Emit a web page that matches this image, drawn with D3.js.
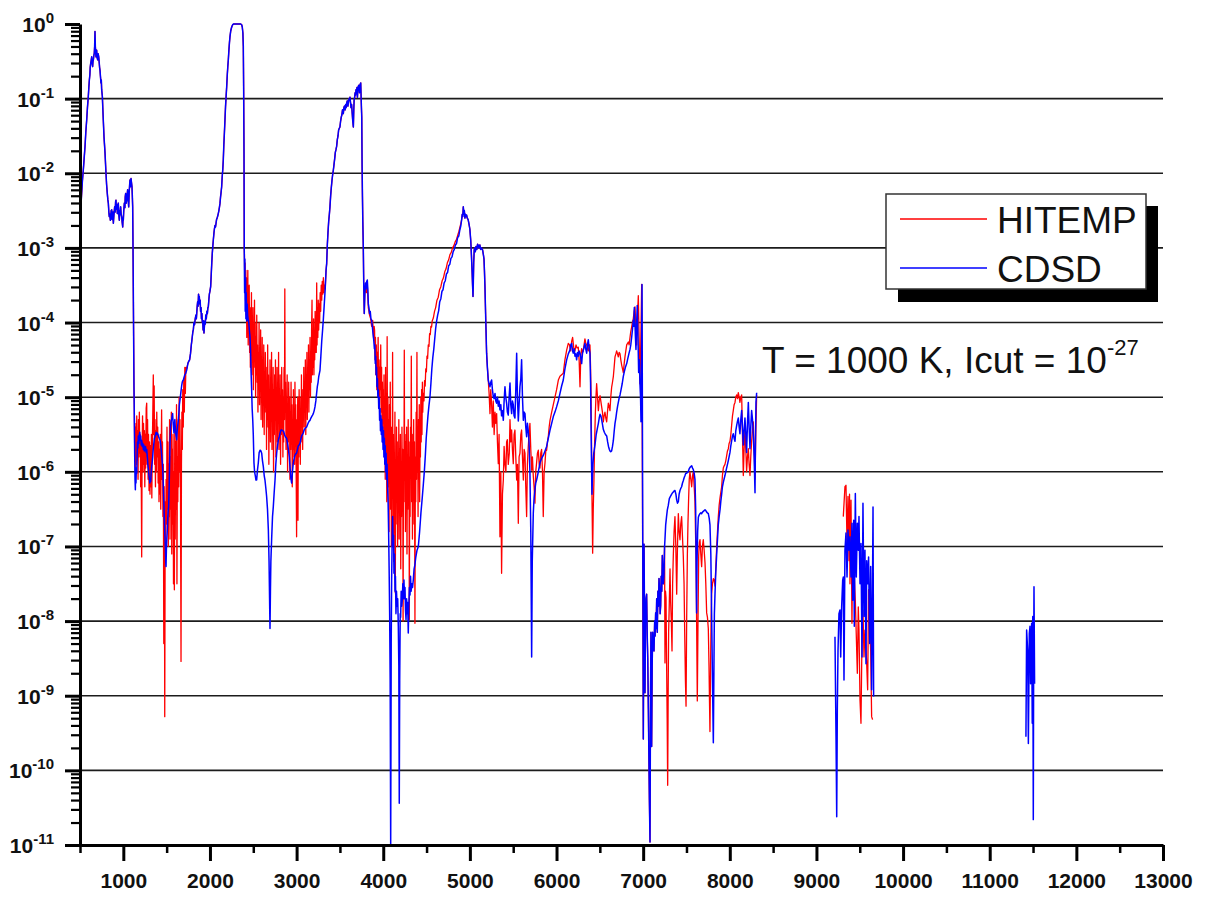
<!DOCTYPE html>
<html>
<head>
<meta charset="utf-8">
<script src="https://cdn.jsdelivr.net/npm/d3@7"></script>
<style>
  body { margin: 0; background: #ffffff; }
  svg { display: block; font-family: "Liberation Sans", Arial, Helvetica, sans-serif; }
</style>
</head>
<body>
<svg id="chart" width="1213" height="899"></svg>
<script>
// Spectra as [wavenumber (cm-1), log10(normalised intensity)] pairs.
// Stretches where both databases coincide are stored once and shared.

// 667 cm-1 band (both)
const bandNu2 = [[500,-3.0],[504,-2.75],[510,-2.45],[519,-2.27],[528,-2.1],[538,-1.96],[548,-1.8],[558,-1.64],[567,-1.45],[577,-1.29],[586,-1.12],[596,-0.97],[602,-0.85],[608,-0.75],[614,-0.68],[618,-0.58],[623,-0.53],[629,-0.49],[635,-0.44],[640,-0.52],[646,-0.57],[650,-0.5],[654,-0.48],[660,-0.42],[665,-0.39],[669,-0.3],[673,-0.1],[677,-0.3],[681,-0.38],[685,-0.44],[688,-0.38],[692,-0.35],[698,-0.45],[704,-0.48],[710,-0.4],[716,-0.44],[722,-0.52],[726,-0.58],[731,-0.62],[736,-0.7],[742,-0.79],[746,-0.75],[750,-0.88],[758,-0.97],[764,-1.15],[769,-1.29],[773,-1.4],[777,-1.51],[783,-1.62],[789,-1.73],[795,-1.88],[800,-2.0],[807,-2.15],[815,-2.27],[821,-2.35],[827,-2.4],[833,-2.52],[838,-2.58],[845,-2.55],[850,-2.63],[854,-2.6],[860,-2.5],[866,-2.49],[871,-2.62],[877,-2.58],[881,-2.52],[885,-2.67],[892,-2.55],[900,-2.45],[906,-2.52],[911,-2.38],[915,-2.36],[920,-2.48],[926,-2.42],[931,-2.54],[937,-2.45],[942,-2.4],[948,-2.55],[954,-2.63],[960,-2.5],[964,-2.52],[969,-2.45],[975,-2.55],[981,-2.58],[987,-2.66],[993,-2.72],[997,-2.6],[1000,-2.63],[1005,-2.5],[1012,-2.4],[1018,-2.46],[1022,-2.32],[1027,-2.27],[1033,-2.4],[1039,-2.36],[1045,-2.28],[1050,-2.22],[1056,-2.35],[1062,-2.45],[1068,-2.25],[1073,-2.15],[1077,-2.09],[1083,-2.18],[1089,-2.07],[1094,-2.12],[1100,-2.18],[1104,-2.3],[1108,-2.45],[1112,-3.0],[1115,-3.52],[1119,-4.2],[1123,-4.86]];

// 1120-1730 cm-1 window
const cdsdLow1 = [[1127,-5.3],[1131,-5.75],[1135,-6.1],[1139,-6.24],[1143,-5.95],[1146,-6.15],[1150,-5.98],[1155,-6.02],[1159,-5.8],[1163,-5.6],[1168,-5.68],[1173,-5.52],[1179,-5.62],[1185,-5.5],[1190,-5.47],[1196,-5.58],[1201,-5.52],[1207,-5.64],[1213,-5.58],[1219,-5.66],[1225,-5.62],[1231,-5.7],[1237,-5.64],[1243,-5.72],[1250,-5.7],[1256,-5.66],[1263,-5.74],[1270,-5.7],[1277,-5.8],[1283,-5.9],[1289,-5.96],[1295,-6.04],[1300,-6.08],[1306,-6.15],[1311,-6.1],[1316,-6.13],[1322,-6.0],[1328,-5.92],[1334,-5.86],[1339,-5.8],[1345,-5.7],[1352,-5.62],[1359,-5.55],[1366,-5.53],[1372,-5.5],[1379,-5.47],[1386,-5.5],[1393,-5.48],[1400,-5.5],[1408,-5.53],[1415,-5.55],[1423,-5.57],[1430,-5.62],[1437,-5.7],[1443,-5.78],[1450,-5.88],[1456,-6.0],[1461,-6.15],[1465,-6.33],[1470,-6.5],[1475,-6.7],[1480,-6.85],[1485,-7.0],[1489,-7.2],[1493,-7.27],[1497,-7.05],[1502,-6.9],[1508,-6.78],[1513,-6.62],[1518,-6.52],[1523,-6.47],[1529,-6.2],[1534,-5.9],[1539,-5.62],[1545,-5.4],[1551,-5.32],[1558,-5.3],[1564,-5.25],[1569,-5.22],[1575,-5.35],[1580,-5.42],[1585,-5.48],[1590,-5.36],[1595,-5.3],[1600,-5.4],[1606,-5.5],[1611,-5.53],[1616,-5.57],[1622,-5.45],[1628,-5.38],[1635,-5.31],[1641,-5.22],[1647,-5.1],[1654,-5.04],[1660,-4.98],[1666,-4.92],[1673,-4.85],[1680,-4.8],[1686,-4.78],[1693,-4.77],[1700,-4.74],[1710,-4.7],[1720,-4.68],[1731,-4.64]];
const hitempLow1 = [[1127,-5.1],[1131,-5.7],[1135,-5.35],[1140,-6.0],[1145,-5.4],[1150,-5.9],[1155,-5.25],[1160,-5.85],[1165,-5.45],[1170,-6.1],[1175,-5.3],[1180,-5.8],[1185,-5.2],[1190,-5.75],[1195,-5.5],[1200,-6.2],[1205,-5.6],[1212,-7.14],[1217,-5.7],[1222,-5.25],[1228,-6.0],[1233,-5.35],[1238,-5.9],[1243,-5.45],[1248,-6.2],[1253,-5.5],[1258,-5.95],[1264,-5.15],[1270,-5.08],[1275,-5.9],[1280,-5.3],[1286,-6.1],[1291,-5.5],[1297,-6.25],[1302,-5.6],[1308,-6.3],[1313,-5.65],[1318,-6.2],[1324,-5.5],[1329,-6.35],[1334,-5.7],[1340,-5.25],[1346,-4.7],[1351,-5.5],[1356,-4.85],[1361,-5.9],[1366,-5.3],[1371,-6.2],[1376,-5.45],[1381,-6.0],[1386,-5.2],[1392,-5.8],[1397,-5.4],[1402,-6.15],[1407,-5.6],[1412,-6.4],[1417,-5.7],[1422,-6.3],[1427,-5.5],[1432,-6.5],[1437,-5.8],[1442,-5.17],[1447,-6.1],[1452,-5.6],[1457,-6.6],[1462,-5.9],[1467,-8.3],[1471,-6.2],[1475,-7.0],[1478,-9.28],[1482,-7.3],[1486,-6.4],[1490,-6.9],[1494,-6.1],[1499,-6.7],[1504,-5.4],[1509,-6.5],[1514,-5.6],[1519,-7.0],[1524,-5.9],[1529,-6.6],[1534,-5.3],[1539,-6.9],[1544,-5.8],[1549,-6.5],[1554,-5.2],[1559,-7.1],[1564,-5.7],[1569,-6.7],[1574,-5.5],[1579,-7.5],[1584,-6.0],[1589,-7.58],[1594,-5.4],[1599,-6.9],[1604,-5.6],[1609,-6.5],[1614,-5.1],[1619,-7.5],[1624,-5.8],[1629,-6.4],[1634,-5.3],[1639,-6.2],[1644,-5.0],[1649,-6.0],[1654,-5.3],[1660,-6.3],[1666,-8.54],[1671,-5.9],[1676,-5.2],[1681,-5.7],[1686,-4.9],[1692,-5.4],[1698,-4.75],[1704,-5.2],[1710,-4.6],[1716,-4.95],[1722,-4.6],[1731,-4.62]];

// 2349 cm-1 band (both)
const band2349 = [[1745,-4.55],[1755,-4.52],[1765,-4.5],[1775,-4.42],[1785,-4.3],[1795,-4.2],[1803,-4.12],[1808,-4.1],[1815,-4.0],[1822,-4.03],[1830,-3.95],[1838,-3.9],[1843,-3.95],[1847,-3.88],[1853,-3.78],[1858,-3.72],[1863,-3.78],[1868,-3.62],[1873,-3.68],[1877,-3.65],[1882,-3.75],[1887,-3.7],[1892,-3.85],[1897,-3.8],[1902,-3.95],[1907,-3.88],[1912,-4.0],[1916,-3.97],[1921,-4.1],[1926,-3.98],[1931,-4.14],[1936,-4.05],[1941,-3.98],[1946,-4.02],[1952,-3.9],[1958,-3.95],[1964,-3.85],[1970,-3.88],[1976,-3.8],[1981,-3.79],[1987,-3.7],[1993,-3.62],[2000,-3.58],[2008,-3.52],[2015,-3.35],[2021,-3.2],[2027,-3.07],[2033,-2.98],[2039,-2.89],[2046,-2.8],[2052,-2.74],[2058,-2.7],[2064,-2.72],[2070,-2.67],[2076,-2.62],[2083,-2.6],[2090,-2.57],[2096,-2.54],[2103,-2.5],[2110,-2.45],[2116,-2.4],[2122,-2.32],[2128,-2.26],[2135,-2.18],[2141,-2.05],[2148,-1.95],[2154,-1.82],[2160,-1.62],[2167,-1.45],[2173,-1.29],[2180,-1.1],[2187,-0.96],[2193,-0.84],[2200,-0.68],[2206,-0.57],[2212,-0.48],[2218,-0.36],[2225,-0.25],[2231,-0.17],[2240,-0.09],[2251,-0.04],[2262,-0.01],[2275,0],[2300,0],[2330,0],[2355,0],[2366,-0.01],[2373,-0.04],[2380,-0.12],[2385,-0.3],[2389,-0.9],[2393,-1.73],[2396,-3.03]];

// 2400-3320 cm-1 window
const cdsdGap2 = [[2400,-3.6],[2403,-3.15],[2407,-3.85],[2411,-3.4],[2415,-3.95],[2419,-3.6],[2424,-3.98],[2429,-3.75],[2435,-3.9],[2441,-3.96],[2448,-4.0],[2455,-4.1],[2462,-4.19],[2468,-4.35],[2474,-4.64],[2481,-4.9],[2487,-5.15],[2494,-5.31],[2500,-5.5],[2508,-5.88],[2515,-6.0],[2523,-6.05],[2531,-6.11],[2539,-6.11],[2548,-5.98],[2558,-5.88],[2568,-5.74],[2578,-5.71],[2588,-5.72],[2597,-5.75],[2606,-5.85],[2616,-5.93],[2626,-6.05],[2635,-6.11],[2645,-6.22],[2654,-6.33],[2664,-6.5],[2674,-6.78],[2682,-7.2],[2688,-7.7],[2693,-8.1],[2698,-7.6],[2703,-7.2],[2712,-6.9],[2722,-6.6],[2731,-6.47],[2741,-6.28],[2751,-6.11],[2760,-5.9],[2770,-5.75],[2780,-5.65],[2790,-5.57],[2800,-5.53],[2810,-5.48],[2820,-5.44],[2830,-5.44],[2840,-5.45],[2850,-5.46],[2860,-5.5],[2870,-5.53],[2885,-5.55],[2895,-5.62],[2905,-5.7],[2916,-5.8],[2925,-5.95],[2933,-6.08],[2943,-6.15],[2952,-6.0],[2962,-5.88],[2972,-5.82],[2981,-5.78],[2990,-5.76],[3000,-5.75],[3010,-5.7],[3020,-5.65],[3030,-5.64],[3039,-5.62],[3048,-5.57],[3058,-5.52],[3068,-5.5],[3077,-5.48],[3087,-5.44],[3097,-5.42],[3106,-5.41],[3116,-5.4],[3126,-5.37],[3136,-5.34],[3145,-5.32],[3155,-5.31],[3165,-5.28],[3174,-5.26],[3184,-5.24],[3193,-5.22],[3203,-5.18],[3212,-5.13],[3222,-5.05],[3230,-4.96],[3239,-4.86],[3248,-4.8],[3256,-4.72],[3263,-4.68],[3270,-4.64],[3280,-4.45],[3290,-4.25],[3300,-4.1],[3308,-3.97],[3318,-3.78]];
const hitempGap2 = [[2398,-3.1],[2402,-3.5],[2406,-3.2],[2410,-3.7],[2414,-3.3],[2418,-3.9],[2421,-3.4],[2425,-4.2],[2429,-3.5],[2433,-3.8],[2437,-3.3],[2441,-4.3],[2445,-3.7],[2449,-4.0],[2453,-3.5],[2458,-4.4],[2462,-3.8],[2466,-4.6],[2470,-3.9],[2475,-4.2],[2479,-3.6],[2483,-4.7],[2488,-4.0],[2492,-4.4],[2496,-3.8],[2501,-4.9],[2505,-4.1],[2509,-4.6],[2514,-3.7],[2518,-4.5],[2522,-4.0],[2527,-5.0],[2531,-4.2],[2536,-4.7],[2540,-3.9],[2545,-4.8],[2549,-4.3],[2554,-5.2],[2558,-4.4],[2563,-4.9],[2567,-4.0],[2572,-5.1],[2576,-4.5],[2581,-4.8],[2585,-4.1],[2590,-5.3],[2594,-4.6],[2599,-5.0],[2603,-4.2],[2608,-5.4],[2612,-4.5],[2617,-5.0],[2621,-4.3],[2626,-5.5],[2630,-4.7],[2635,-5.2],[2639,-4.4],[2644,-5.1],[2648,-4.6],[2653,-5.7],[2657,-4.8],[2662,-5.3],[2666,-4.3],[2671,-5.4],[2675,-4.7],[2680,-5.9],[2684,-4.9],[2689,-5.3],[2693,-4.5],[2698,-5.6],[2702,-4.8],[2707,-5.2],[2711,-4.4],[2716,-5.7],[2720,-5.0],[2725,-5.4],[2729,-4.6],[2734,-6.0],[2738,-4.9],[2743,-5.5],[2747,-4.7],[2752,-5.3],[2756,-4.5],[2761,-5.8],[2765,-5.0],[2770,-5.4],[2774,-4.6],[2779,-5.6],[2783,-4.9],[2788,-5.3],[2792,-4.4],[2797,-5.7],[2801,-5.0],[2806,-5.5],[2810,-4.7],[2815,-5.9],[2819,-5.1],[2824,-5.5],[2828,-4.6],[2833,-5.4],[2837,-4.9],[2842,-5.8],[2846,-5.0],[2851,-5.6],[2855,-4.6],[2860,-5.3],[2864,-3.55],[2868,-5.2],[2873,-4.8],[2878,-5.7],[2882,-5.0],[2887,-5.4],[2891,-4.7],[2896,-6.0],[2900,-5.1],[2905,-5.6],[2909,-4.8],[2914,-5.5],[2918,-5.0],[2923,-6.1],[2927,-5.2],[2932,-5.7],[2936,-4.8],[2941,-5.6],[2945,-5.1],[2950,-6.2],[2954,-5.3],[2959,-5.8],[2963,-4.9],[2968,-5.7],[2972,-5.2],[2977,-5.9],[2981,-4.8],[2986,-5.6],[2990,-5.1],[2995,-6.0],[3000,-6.87],[3004,-5.3],[3009,-5.7],[3013,-5.0],[3016,-6.65],[3020,-5.4],[3025,-5.8],[3029,-4.9],[3034,-5.5],[3038,-5.0],[3043,-5.9],[3047,-5.2],[3052,-5.6],[3056,-4.7],[3061,-5.4],[3065,-4.9],[3070,-5.7],[3074,-5.0],[3079,-5.3],[3083,-4.6],[3088,-5.4],[3092,-4.8],[3097,-5.2],[3101,-4.5],[3106,-5.5],[3110,-4.7],[3115,-5.1],[3119,-4.4],[3124,-5.3],[3128,-4.6],[3133,-5.0],[3137,-4.3],[3142,-5.2],[3146,-4.5],[3151,-4.9],[3155,-4.2],[3160,-5.0],[3164,-4.4],[3169,-4.8],[3173,-4.1],[3178,-3.7],[3182,-4.7],[3187,-4.2],[3191,-4.6],[3196,-3.95],[3200,-4.7],[3205,-4.2],[3209,-4.5],[3214,-3.85],[3218,-4.4],[3223,-4.0],[3227,-4.4],[3232,-3.47],[3236,-4.3],[3241,-3.8],[3245,-4.2],[3250,-3.7],[3255,-4.1],[3260,-3.75],[3266,-4.0],[3272,-3.6],[3278,-3.85],[3284,-3.5],[3290,-3.7],[3296,-3.45],[3302,-3.62],[3309,-3.4],[3316,-3.6],[3322,-3.5]];

// 3700 cm-1 band (both)
const band3700 = [[3330,-3.55],[3340,-3.3],[3347,-3.21],[3355,-2.95],[3362,-2.8],[3370,-2.65],[3378,-2.55],[3385,-2.45],[3393,-2.3],[3400,-2.2],[3408,-2.1],[3416,-2.02],[3424,-1.96],[3432,-1.88],[3440,-1.8],[3447,-1.72],[3455,-1.68],[3462,-1.64],[3470,-1.55],[3478,-1.5],[3485,-1.42],[3492,-1.4],[3500,-1.38],[3508,-1.3],[3515,-1.25],[3522,-1.22],[3530,-1.15],[3539,-1.2],[3546,-1.12],[3553,-1.1],[3560,-1.15],[3566,-1.08],[3572,-1.12],[3578,-1.06],[3585,-1.03],[3592,-1.1],[3598,-1.05],[3605,-1.0],[3611,-1.02],[3616,-0.98],[3622,-1.05],[3628,-1.12],[3635,-1.08],[3642,-1.2],[3648,-1.3],[3655,-1.38],[3660,-1.15],[3664,-1.02],[3670,-0.98],[3676,-0.92],[3681,-0.95],[3686,-0.88],[3692,-0.92],[3697,-0.85],[3702,-0.98],[3708,-0.86],[3714,-0.83],[3720,-0.82],[3726,-0.92],[3731,-0.86],[3736,-0.8],[3740,-0.79],[3744,-0.95],[3748,-1.11],[3752,-1.25],[3756,-1.9],[3760,-2.3],[3764,-2.63],[3770,-3.0],[3775,-3.5],[3781,-3.88]];

// 3790-4900 cm-1 window
const cdsdWing3 = [[3788,-3.6],[3795,-3.47],[3802,-3.55],[3809,-3.45],[3816,-3.43],[3822,-3.55],[3828,-3.75],[3835,-3.8],[3842,-3.88],[3850,-3.85],[3858,-3.95],[3866,-3.97],[3874,-4.05],[3882,-4.15],[3890,-4.23],[3898,-4.35],[3903,-4.3],[3908,-4.55],[3913,-4.45],[3918,-4.7],[3923,-4.6],[3928,-4.86],[3933,-4.75],[3938,-5.0],[3943,-4.9],[3948,-5.15],[3953,-5.0],[3958,-5.31],[3963,-5.15],[3968,-5.45],[3973,-5.25],[3978,-5.5],[3983,-5.3],[3988,-5.6],[3993,-5.4],[3998,-5.7],[4003,-5.45],[4008,-5.8],[4013,-5.55],[4018,-5.9],[4023,-5.65],[4028,-6.0],[4033,-5.75],[4038,-6.1],[4044,-5.9],[4050,-6.2],[4056,-6.4],[4062,-6.8],[4068,-7.3],[4074,-7.9],[4080,-8.8],[4086,-11.0],[4092,-8.3],[4097,-7.45],[4103,-6.9],[4108,-6.6],[4114,-7.0],[4119,-6.85],[4124,-7.36],[4130,-7.1],[4136,-7.6],[4141,-7.4],[4147,-7.9],[4153,-7.6],[4160,-7.8],[4167,-7.7],[4174,-8.07],[4180,-8.6],[4185,-10.44],[4190,-8.8],[4196,-7.9],[4201,-7.95],[4207,-7.6],[4213,-7.8],[4220,-7.72],[4226,-7.5],[4232,-7.7],[4239,-7.45],[4245,-7.7],[4251,-7.55],[4257,-7.85],[4263,-7.98],[4270,-7.7],[4276,-7.9],[4282,-7.75],[4289,-8.16],[4295,-7.8],[4302,-7.55],[4309,-7.65],[4315,-7.4],[4322,-7.6],[4330,-7.5],[4338,-7.55],[4347,-7.45],[4356,-7.3],[4365,-7.25],[4375,-7.15],[4390,-7.05],[4405,-7.0],[4420,-6.8],[4435,-6.55],[4450,-6.35],[4462,-6.18],[4474,-6.0],[4485,-5.8],[4496,-5.55],[4506,-5.4],[4516,-5.25],[4527,-5.12],[4539,-5.0],[4550,-4.82],[4561,-4.62],[4572,-4.47],[4583,-4.36],[4594,-4.22],[4605,-4.08],[4616,-3.98],[4628,-3.9],[4640,-3.84],[4652,-3.72],[4665,-3.68],[4678,-3.58],[4690,-3.56],[4703,-3.47],[4716,-3.44],[4729,-3.35],[4742,-3.33],[4755,-3.24],[4768,-3.22],[4781,-3.14],[4794,-3.12],[4807,-3.05],[4820,-3.02],[4833,-2.96],[4846,-2.94],[4859,-2.86],[4872,-2.84],[4884,-2.76],[4896,-2.7]];
const hitempWing3 = [[3788,-3.6],[3795,-3.5],[3805,-3.6],[3816,-3.5],[3828,-3.8],[3842,-3.9],[3855,-3.95],[3866,-4.05],[3878,-3.97],[3888,-4.2],[3895,-4.05],[3900,-4.1],[3905,-4.5],[3910,-4.2],[3915,-4.7],[3920,-4.3],[3926,-4.9],[3931,-4.4],[3936,-4.8],[3941,-4.2],[3946,-5.0],[3951,-4.5],[3956,-5.1],[3961,-4.6],[3966,-4.9],[3971,-4.3],[3976,-5.2],[3981,-4.6],[3986,-5.4],[3990,-4.8],[3995,-5.6],[4000,-4.9],[4004,-5.3],[4009,-4.7],[4014,-5.8],[4018,-5.0],[4023,-6.1],[4027,-4.6],[4032,-5.9],[4036,-5.2],[4041,-6.4],[4045,-4.19],[4049,-5.6],[4054,-5.0],[4058,-6.2],[4063,-5.3],[4067,-6.8],[4072,-5.1],[4076,-6.0],[4081,-4.8],[4085,-6.5],[4090,-5.4],[4094,-7.0],[4099,-5.6],[4103,-6.3],[4108,-4.4],[4112,-6.6],[4117,-5.5],[4121,-7.2],[4126,-5.8],[4130,-6.4],[4135,-5.2],[4139,-7.62],[4144,-5.9],[4148,-6.7],[4153,-5.4],[4157,-6.2],[4162,-5.6],[4166,-7.0],[4171,-5.8],[4175,-6.5],[4180,-5.3],[4184,-6.9],[4189,-5.7],[4193,-6.3],[4198,-5.5],[4202,-7.3],[4207,-5.9],[4211,-6.6],[4216,-5.4],[4220,-6.2],[4225,-5.7],[4229,-8.0],[4234,-5.8],[4238,-6.4],[4243,-4.37],[4247,-6.1],[4252,-5.5],[4256,-6.8],[4261,-5.6],[4265,-6.3],[4270,-5.4],[4274,-7.1],[4279,-5.9],[4283,-6.5],[4288,-5.3],[4292,-6.2],[4297,-5.6],[4301,-7.98],[4306,-5.8],[4310,-6.6],[4315,-5.4],[4319,-6.0],[4324,-4.45],[4328,-6.4],[4333,-5.7],[4337,-6.9],[4342,-5.5],[4346,-6.2],[4351,-5.3],[4355,-6.7],[4360,-5.6],[4366,-8.03],[4371,-5.8],[4375,-6.4],[4380,-5.2],[4384,-6.1],[4389,-4.4],[4393,-6.0],[4398,-5.4],[4402,-6.6],[4407,-5.3],[4411,-5.9],[4416,-5.1],[4420,-6.4],[4425,-5.4],[4429,-5.8],[4434,-5.0],[4438,-5.6],[4443,-4.9],[4447,-5.5],[4452,-4.8],[4456,-5.2],[4462,-4.95],[4470,-5.05],[4477,-4.78],[4484,-4.85],[4491,-4.62],[4498,-4.66],[4505,-4.45],[4512,-4.48],[4520,-4.3],[4528,-4.32],[4535,-4.15],[4543,-4.16],[4550,-4.05],[4558,-4.06],[4565,-3.98],[4578,-3.94],[4592,-3.85],[4605,-3.8],[4620,-3.7],[4635,-3.66],[4650,-3.56],[4665,-3.52],[4680,-3.44],[4695,-3.4],[4710,-3.32],[4725,-3.28],[4740,-3.2],[4755,-3.16],[4770,-3.09],[4785,-3.06],[4800,-3.0],[4815,-2.97],[4830,-2.92],[4845,-2.89],[4860,-2.83],[4873,-2.78],[4886,-2.72],[4896,-2.67]];

// 5000 cm-1 band (both)
const band5000 = [[4905,-2.62],[4912,-2.55],[4918,-2.58],[4924,-2.45],[4930,-2.55],[4936,-2.5],[4942,-2.6],[4948,-2.55],[4955,-2.58],[4962,-2.56],[4970,-2.6],[4980,-2.62],[4990,-2.68],[5000,-2.75],[5010,-2.9],[5018,-3.1],[5025,-3.3],[5031,-3.5],[5036,-3.65],[5040,-3.45],[5044,-3.2],[5050,-3.03],[5055,-3.0],[5063,-3.05],[5071,-2.98],[5080,-3.02],[5089,-2.95],[5097,-2.97],[5106,-3.0],[5115,-2.96],[5124,-3.02],[5135,-3.0],[5147,-3.03],[5157,-3.1],[5163,-3.15],[5168,-3.3],[5174,-3.52],[5184,-4.0],[5193,-4.41],[5202,-4.6],[5212,-4.77]];

// 5220-6990 cm-1 window
const cdsdGap4 = [[5222,-4.82],[5232,-4.86],[5241,-4.8],[5251,-4.77],[5260,-4.9],[5270,-4.99],[5280,-5.02],[5290,-4.95],[5299,-5.05],[5309,-5.08],[5318,-5.0],[5328,-5.12],[5337,-5.05],[5347,-5.17],[5357,-5.1],[5366,-5.25],[5376,-5.18],[5386,-5.31],[5395,-5.05],[5405,-4.86],[5414,-5.0],[5424,-5.08],[5433,-5.2],[5443,-5.24],[5453,-5.0],[5463,-4.81],[5472,-5.1],[5482,-5.22],[5491,-5.05],[5501,-5.1],[5510,-5.25],[5520,-5.28],[5530,-4.9],[5540,-4.41],[5549,-5.0],[5559,-5.32],[5568,-5.1],[5578,-4.86],[5588,-4.75],[5597,-4.5],[5607,-5.0],[5617,-5.31],[5626,-5.2],[5636,-5.22],[5645,-5.4],[5655,-5.53],[5664,-5.35],[5674,-5.45],[5683,-5.6],[5693,-6.0],[5703,-6.8],[5713,-8.48],[5720,-7.2],[5732,-6.55],[5741,-6.35],[5751,-6.24],[5760,-6.15],[5770,-6.11],[5790,-6.0],[5809,-5.88],[5828,-5.82],[5847,-5.78],[5867,-5.72],[5886,-5.66],[5905,-5.55],[5925,-5.44],[5944,-5.35],[5963,-5.26],[5982,-5.2],[6001,-5.13],[6021,-5.05],[6040,-4.95],[6059,-4.85],[6078,-4.77],[6097,-4.62],[6117,-4.5],[6136,-4.42],[6155,-4.37],[6165,-4.3],[6175,-4.28],[6185,-4.38],[6194,-4.41],[6204,-4.35],[6213,-4.45],[6223,-4.42],[6232,-4.5],[6242,-4.4],[6251,-4.45],[6261,-4.38],[6271,-4.41],[6280,-4.47],[6290,-4.55],[6299,-4.42],[6309,-4.37],[6318,-4.33],[6328,-4.28],[6338,-4.36],[6348,-4.41],[6357,-4.3],[6367,-4.23],[6377,-4.35],[6386,-4.41],[6393,-4.8],[6398,-5.31],[6403,-5.8],[6409,-6.3],[6414,-6.1],[6420,-5.9],[6430,-5.75],[6444,-5.64],[6458,-5.5],[6471,-5.42],[6483,-5.35],[6494,-5.27],[6502,-5.23],[6512,-5.25],[6521,-5.3],[6530,-5.36],[6540,-5.43],[6552,-5.47],[6565,-5.5],[6579,-5.52],[6590,-5.6],[6600,-5.66],[6610,-5.7],[6617,-5.72],[6626,-5.73],[6636,-5.72],[6646,-5.66],[6656,-5.58],[6666,-5.45],[6675,-5.35],[6685,-5.28],[6694,-5.2],[6705,-5.12],[6715,-5.06],[6725,-5.0],[6733,-4.97],[6745,-4.9],[6758,-4.82],[6771,-4.72],[6782,-4.66],[6795,-4.6],[6810,-4.55],[6823,-4.48],[6835,-4.42],[6848,-4.36],[6857,-4.3],[6867,-4.2],[6876,-4.1],[6886,-3.97],[6892,-4.05],[6898,-3.8],[6905,-4.0],[6911,-4.2],[6917,-4.36],[6925,-4.0],[6932,-3.77],[6940,-4.2],[6948,-4.67],[6956,-4.5],[6963,-4.82],[6970,-5.0],[6975,-5.33],[6981,-4.5],[6987,-3.49]];
const hitempGap4 = [[5222,-4.95],[5232,-5.22],[5241,-4.9],[5251,-5.1],[5260,-5.4],[5270,-5.05],[5280,-5.5],[5290,-5.2],[5299,-5.35],[5309,-5.22],[5318,-5.6],[5328,-5.89],[5337,-5.5],[5347,-6.87],[5357,-6.0],[5366,-7.36],[5376,-6.3],[5386,-6.11],[5395,-5.66],[5405,-5.9],[5416,-6.0],[5424,-5.6],[5432,-5.57],[5443,-5.9],[5455,-5.75],[5463,-5.3],[5472,-5.6],[5482,-5.44],[5491,-5.7],[5501,-5.89],[5510,-5.5],[5520,-5.44],[5530,-5.8],[5540,-6.11],[5549,-5.9],[5559,-6.69],[5568,-5.8],[5578,-5.75],[5588,-5.5],[5597,-5.44],[5607,-5.8],[5617,-6.11],[5626,-5.7],[5636,-5.75],[5645,-6.2],[5655,-6.6],[5664,-5.9],[5674,-5.66],[5683,-5.5],[5693,-5.35],[5703,-5.7],[5713,-5.98],[5722,-5.8],[5732,-6.06],[5741,-6.2],[5751,-6.42],[5760,-6.0],[5770,-5.88],[5780,-5.75],[5790,-5.71],[5800,-5.9],[5809,-5.95],[5818,-5.75],[5828,-5.7],[5838,-6.0],[5847,-6.6],[5857,-6.0],[5867,-5.88],[5876,-5.72],[5886,-5.71],[5895,-5.6],[5905,-5.53],[5915,-5.4],[5925,-5.31],[5944,-5.2],[5963,-5.1],[5982,-5.0],[6001,-4.9],[6021,-4.77],[6040,-4.72],[6059,-4.7],[6078,-4.68],[6097,-4.5],[6117,-4.37],[6136,-4.28],[6150,-4.3],[6163,-4.38],[6175,-4.25],[6186,-4.2],[6200,-4.35],[6213,-4.38],[6225,-4.3],[6238,-4.34],[6251,-4.33],[6261,-4.5],[6271,-4.86],[6280,-4.45],[6290,-4.35],[6299,-4.4],[6309,-4.38],[6318,-4.3],[6328,-4.22],[6338,-4.28],[6348,-4.3],[6357,-4.35],[6367,-4.38],[6377,-4.3],[6386,-4.3],[6393,-4.6],[6398,-4.95],[6404,-5.6],[6410,-6.4],[6417,-7.09],[6424,-6.5],[6432,-6.11],[6440,-5.6],[6448,-5.22],[6455,-5.0],[6463,-4.82],[6473,-5.0],[6483,-5.18],[6492,-5.05],[6502,-4.98],[6511,-5.05],[6521,-5.13],[6530,-5.2],[6540,-5.33],[6549,-5.25],[6559,-5.2],[6569,-5.28],[6579,-5.33],[6588,-5.2],[6598,-5.08],[6607,-5.12],[6617,-5.18],[6626,-5.0],[6636,-4.87],[6646,-4.8],[6656,-4.72],[6665,-4.6],[6675,-4.46],[6685,-4.42],[6694,-4.38],[6704,-4.42],[6713,-4.46],[6723,-4.4],[6733,-4.42],[6742,-4.5],[6752,-4.57],[6762,-4.62],[6771,-4.67],[6781,-4.55],[6790,-4.46],[6800,-4.38],[6810,-4.3],[6829,-4.26],[6838,-4.3],[6848,-4.2],[6857,-4.12],[6867,-4.06],[6876,-4.0],[6886,-3.95],[6896,-3.85],[6906,-3.79],[6915,-4.05],[6925,-4.3],[6935,-3.9],[6944,-3.64],[6953,-4.2],[6963,-4.82],[6972,-4.3],[6983,-3.49]];

// 7000-7250 cm-1 (both)
const band7000 = [[7002,-9.58],[7010,-6.97],[7015,-7.8],[7021,-8.96],[7027,-8.0],[7033,-7.7],[7040,-7.64],[7047,-8.2],[7053,-8.5],[7060,-9.17],[7066,-9.8],[7072,-10.4],[7079,-10.96],[7085,-9.0],[7090,-8.15],[7094,-8.8],[7098,-9.68],[7104,-8.6],[7110,-8.15],[7117,-8.3],[7125,-8.4],[7133,-8.0],[7138,-8.2],[7144,-7.89],[7150,-8.1],[7156,-7.7],[7163,-8.15],[7170,-7.6],[7176,-7.8],[7183,-7.43],[7190,-7.6],[7196,-7.9],[7202,-7.79],[7208,-7.4],[7215,-7.6],[7221,-7.12],[7227,-7.3],[7233,-7.5],[7240,-7.38],[7247,-7.0]];

// 7250-8310 cm-1
const cdsdBand5 = [[7252,-6.9],[7260,-6.71],[7270,-6.6],[7279,-6.51],[7290,-6.45],[7302,-6.36],[7315,-6.33],[7329,-6.3],[7340,-6.28],[7355,-6.26],[7367,-6.25],[7378,-6.3],[7387,-6.38],[7396,-6.42],[7406,-6.4],[7415,-6.3],[7425,-6.25],[7435,-6.22],[7444,-6.2],[7454,-6.15],[7463,-6.12],[7473,-6.08],[7483,-6.05],[7492,-6.02],[7502,-6.02],[7512,-6.0],[7521,-6.0],[7531,-5.96],[7541,-5.94],[7550,-5.93],[7560,-5.92],[7570,-5.95],[7579,-5.97],[7589,-6.02],[7598,-6.1],[7606,-6.5],[7612,-7.3],[7617,-7.89],[7622,-7.2],[7629,-6.8],[7637,-6.61],[7646,-6.58],[7656,-6.56],[7666,-6.55],[7675,-6.56],[7685,-6.54],[7694,-6.53],[7704,-6.52],[7714,-6.51],[7723,-6.52],[7733,-6.54],[7742,-6.55],[7752,-6.56],[7762,-6.62],[7771,-6.71],[7781,-7.1],[7790,-7.89],[7800,-8.8],[7810,-9.63],[7817,-8.6],[7822,-7.9],[7829,-7.64],[7838,-7.35],[7848,-7.12],[7858,-6.9],[7867,-6.71],[7877,-6.6],[7887,-6.51],[7896,-6.4],[7906,-6.3],[7915,-6.2],[7925,-6.14],[7944,-6.05],[7963,-5.95],[7983,-5.85],[8002,-5.74],[8012,-5.65],[8021,-5.59],[8031,-5.52],[8040,-5.49],[8050,-5.55],[8060,-5.59],[8069,-5.45],[8079,-5.38],[8089,-5.32],[8098,-5.28],[8108,-5.4],[8117,-5.49],[8127,-5.3],[8137,-5.18],[8146,-5.4],[8156,-5.64],[8165,-5.45],[8175,-5.28],[8185,-5.5],[8194,-5.74],[8204,-5.35],[8214,-5.07],[8223,-5.4],[8233,-5.69],[8242,-5.4],[8252,-5.18],[8262,-5.3],[8271,-5.49],[8281,-5.8],[8291,-6.28],[8296,-5.6],[8302,-5.07],[8310,-4.94]];
const hitempBand5 = [[7252,-8.56],[7258,-7.6],[7264,-7.69],[7270,-8.5],[7277,-9.3],[7283,-10.2],[7289,-8.9],[7294,-8.15],[7302,-7.74],[7310,-7.3],[7317,-7.74],[7325,-8.0],[7333,-8.4],[7340,-7.5],[7348,-7.12],[7357,-6.8],[7367,-6.6],[7377,-7.0],[7387,-7.64],[7396,-7.0],[7406,-6.56],[7415,-6.8],[7425,-6.91],[7434,-6.7],[7444,-6.6],[7453,-6.85],[7463,-7.12],[7472,-7.5],[7480,-8.2],[7488,-8.8],[7495,-9.14],[7502,-8.0],[7510,-7.12],[7517,-6.7],[7525,-6.35],[7532,-6.1],[7540,-6.0],[7550,-6.1],[7560,-6.2],[7570,-6.05],[7579,-6.0],[7589,-6.2],[7598,-6.4],[7604,-6.8],[7610,-7.12],[7617,-8.0],[7625,-9.07],[7633,-8.0],[7641,-7.12],[7648,-6.95],[7656,-6.91],[7665,-7.1],[7675,-7.27],[7684,-7.0],[7694,-6.91],[7704,-7.05],[7714,-7.22],[7723,-7.5],[7733,-7.89],[7742,-7.95],[7752,-8.1],[7760,-8.6],[7766,-9.1],[7771,-9.48],[7778,-8.6],[7784,-8.0],[7790,-7.64],[7800,-7.5],[7810,-7.43],[7820,-7.45],[7829,-7.53],[7838,-7.3],[7848,-7.02],[7858,-6.8],[7867,-6.61],[7877,-6.45],[7887,-6.35],[7896,-6.28],[7906,-6.2],[7915,-6.05],[7925,-5.95],[7935,-5.92],[7944,-5.9],[7954,-5.85],[7963,-5.79],[7973,-5.72],[7983,-5.69],[7992,-5.62],[8002,-5.59],[8012,-5.5],[8021,-5.38],[8031,-5.25],[8040,-5.18],[8050,-5.1],[8060,-5.07],[8069,-5.0],[8079,-4.97],[8089,-5.02],[8098,-4.94],[8108,-5.0],[8117,-5.07],[8127,-5.0],[8137,-4.97],[8146,-5.5],[8156,-6.05],[8165,-5.7],[8175,-5.43],[8185,-5.7],[8194,-6.0],[8204,-5.8],[8214,-5.69],[8223,-5.9],[8233,-6.05],[8242,-5.8],[8252,-5.59],[8262,-5.45],[8271,-5.33],[8281,-5.7],[8291,-6.1],[8300,-5.5],[8310,-4.97]];

// 9200-9660 cm-1
const cdsdBand6 = [[9214,-8.21],[9226,-9.55],[9234,-10.62],[9241,-9.19],[9249,-8.39],[9260,-7.9],[9272,-7.85],[9280,-8.48],[9291,-7.81],[9303,-7.45],[9310,-7.41],[9318,-8.79],[9329,-7.05],[9341,-6.82],[9353,-7.41],[9364,-6.78],[9376,-7.05],[9387,-6.87],[9399,-7.41],[9410,-6.69],[9418,-7.72],[9430,-6.65],[9437,-8.07],[9449,-6.29],[9460,-7.41],[9472,-6.69],[9483,-7.05],[9491,-6.6],[9503,-7.5],[9514,-6.96],[9526,-8.48],[9537,-6.42],[9549,-7.94],[9560,-7.05],[9572,-8.57],[9580,-7.19],[9591,-7.5],[9602,-7.14],[9614,-8.3],[9626,-7.27],[9637,-8.92],[9645,-7.94],[9653,-6.47],[9660,-9.01]];
const hitempBand6 = [[9310,-6.6],[9329,-6.2],[9341,-6.18],[9353,-6.96],[9364,-6.33],[9376,-7.19],[9382,-6.3],[9387,-7.5],[9399,-6.38],[9410,-8.03],[9418,-6.87],[9430,-7.1],[9437,-7.41],[9449,-7.73],[9472,-8.7],[9483,-7.81],[9491,-8.12],[9503,-9.06],[9514,-9.37],[9526,-8.21],[9537,-7.85],[9549,-8.48],[9560,-8.12],[9580,-8.57],[9591,-8.92],[9602,-7.58],[9614,-8.03],[9626,-8.39],[9637,-9.28],[9648,-9.32]];

// 11400-11520 cm-1 (CDSD only)
const cdsdBand7 = [[11418,-9.55],[11426,-8.12],[11438,-8.39],[11446,-9.64],[11457,-8.17],[11465,-8.07],[11472,-8.84],[11484,-8.03],[11491,-9.37],[11497,-7.94],[11503,-10.66],[11507,-8.6],[11511,-7.54],[11518,-8.84]];

const xMajorTicks = d3.range(1000, 13001, 1000);
const xMinorTicks = d3.range(500, 13000, 1000);
const yExponents = d3.range(-11, 1);

const seriesList = [
  { name: "HITEMP", color: "#ff0000", width: 1.3,
    segments: [
      [...bandNu2, ...hitempLow1, ...band2349, ...hitempGap2, ...band3700, ...hitempWing3,
       ...band5000, ...hitempGap4, ...band7000, ...hitempBand5],
      hitempBand6
    ] },
  { name: "CDSD", color: "#0000ff", width: 1.5,
    segments: [
      [...bandNu2, ...cdsdLow1, ...band2349, ...cdsdGap2, ...band3700, ...cdsdWing3,
       ...band5000, ...cdsdGap4, ...band7000, ...cdsdBand5],
      cdsdBand6, cdsdBand7
    ] }
];

// ---------------------------------------------------------------
const svg = d3.select("#chart");
const plot = { left: 80, right: 1163, top: 24, bottom: 845 };

const x = d3.scaleLinear().domain([500, 13000]).range([plot.left, plot.right]);
const y = d3.scaleLog().domain([1e-11, 1]).range([plot.bottom, plot.top]);
const val = e => Math.pow(10, e);

// horizontal grid at each decade
svg.append("g")
  .selectAll("line")
  .data(yExponents.filter(e => e > -11 && e < 0))
  .join("line")
  .attr("x1", plot.left).attr("x2", plot.right)
  .attr("y1", e => y(val(e))).attr("y2", e => y(val(e)))
  .attr("stroke", "#1c1c1c").attr("stroke-width", 1.6);

// spectra
svg.append("clipPath").attr("id", "plotClip")
  .append("rect")
  .attr("x", plot.left).attr("y", plot.top - 2)
  .attr("width", plot.right - plot.left).attr("height", plot.bottom - plot.top + 2);

const line = d3.line().x(d => x(d[0])).y(d => y(val(d[1])));
const dataLayer = svg.append("g").attr("clip-path", "url(#plotClip)");
seriesList.forEach(s => {
  dataLayer.append("g")
    .selectAll("path")
    .data(s.segments)
    .join("path")
    .attr("d", line)
    .attr("fill", "none")
    .attr("stroke", s.color)
    .attr("stroke-width", s.width)
    .attr("stroke-linejoin", "round");
});

// y axis
const yMinorTicks = [];
yExponents.filter(e => e < 0).forEach(e => { for (let k = 2; k <= 9; k++) yMinorTicks.push(k * val(e)); });

const yAxisG = svg.append("g").attr("transform", `translate(${plot.left},0)`);
yAxisG.call(d3.axisLeft(y).tickValues(yExponents.map(val)).tickSize(15).tickSizeOuter(0).tickFormat(""));
yAxisG.selectAll(".tick line").attr("stroke", "#000").attr("stroke-width", 3);
yAxisG.select(".domain").attr("stroke", "#000").attr("stroke-width", 3);

const yMinorG = svg.append("g").attr("transform", `translate(${plot.left},0)`);
yMinorG.call(d3.axisLeft(y).tickValues(yMinorTicks).tickSize(9).tickSizeOuter(0).tickFormat(""));
yMinorG.select(".domain").remove();
yMinorG.selectAll(".tick line").attr("stroke", "#000").attr("stroke-width", 2.2);

// y tick labels: 10 with a superscript exponent
const yLabels = svg.append("g")
  .attr("font-weight", "bold").attr("fill", "#111")
  .selectAll("text")
  .data(yExponents)
  .join("text")
  .attr("x", 54)
  .attr("y", e => y(val(e)) + 8)
  .attr("text-anchor", "end")
  .attr("font-size", 21);
yLabels.append("tspan").text("10");
yLabels.append("tspan").attr("dy", -9).attr("font-size", 15).text(e => String(e));

// x axis
const xAxisG = svg.append("g").attr("transform", `translate(0,${plot.bottom})`);
xAxisG.call(d3.axisBottom(x).tickValues(xMajorTicks).tickSize(16).tickPadding(12)
  .tickSizeOuter(0).tickFormat(d3.format("d")));
xAxisG.select(".domain").attr("stroke", "#000").attr("stroke-width", 3);
xAxisG.selectAll(".tick line").attr("stroke", "#000").attr("stroke-width", 3);
xAxisG.selectAll(".tick text")
  .attr("font-family", "'Liberation Sans', Arial, sans-serif")
  .attr("font-size", 21).attr("font-weight", "bold").attr("fill", "#111");

const xMinorG = svg.append("g").attr("transform", `translate(0,${plot.bottom})`);
xMinorG.call(d3.axisBottom(x).tickValues(xMinorTicks).tickSize(8).tickSizeOuter(0).tickFormat(""));
xMinorG.select(".domain").remove();
xMinorG.selectAll(".tick line").attr("stroke", "#000").attr("stroke-width", 2.5);

// legend with drop shadow
const legend = svg.append("g");
legend.append("rect").attr("x", 898).attr("y", 206).attr("width", 260).attr("height", 96).attr("fill", "#000");
legend.append("rect").attr("x", 886).attr("y", 194).attr("width", 260).attr("height", 95)
  .attr("fill", "#fff").attr("stroke", "#333").attr("stroke-width", 1.5);
seriesList.forEach((s, i) => {
  const cy = 219 + i * 49;
  legend.append("line").attr("x1", 900).attr("x2", 987).attr("y1", cy).attr("y2", cy)
    .attr("stroke", s.color).attr("stroke-width", 1.5);
  legend.append("text").attr("x", 997).attr("y", cy + 14).attr("font-size", 37)
    .attr("fill", "#111").text(s.name);
});

// run conditions
const note = svg.append("text").attr("x", 762).attr("y", 373).attr("font-size", 37).attr("fill", "#111");
note.append("tspan").text("T = 1000 K, Icut = 10");
note.append("tspan").attr("dy", -18).attr("font-size", 22).text("-27");
</script>
</body>
</html>
